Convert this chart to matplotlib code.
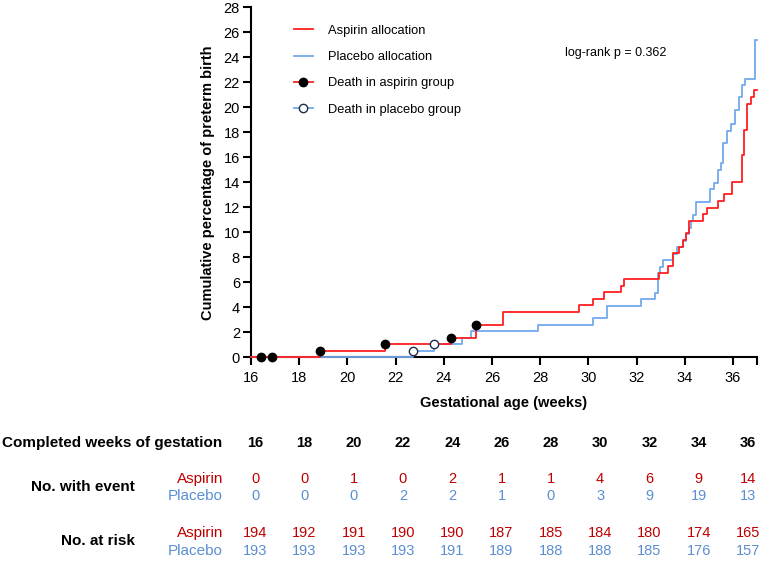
import matplotlib
matplotlib.use("Agg")
import matplotlib.pyplot as plt
import numpy as np
from matplotlib.lines import Line2D

plt.rcParams['font.family'] = ['Liberation Sans', 'DejaVu Sans']

# step curves: time of each step and cumulative % after it
aspirin_t = [16.0, 18.88, 21.58, 24.32, 25.33, 26.46, 29.61, 30.18, 30.63, 31.35,
             31.49, 32.93, 33.32, 33.50, 33.78, 33.92, 34.05, 34.18, 34.77, 34.93,
             35.37, 35.65, 35.95, 36.36, 36.48, 36.60, 36.75, 36.86]
aspirin_y = [0.0, 0.52, 1.04, 1.55, 2.58, 3.63, 4.17, 4.69, 5.20, 5.72,
             6.24, 6.77, 7.30, 8.32, 8.85, 9.38, 9.92, 10.93, 11.45, 11.97,
             12.50, 13.03, 14.05, 16.15, 18.15, 20.30, 20.82, 21.35]

placebo_t = [16.0, 22.72, 23.60, 24.74, 25.15, 27.90, 30.18, 30.76, 32.20, 32.75,
             32.90, 32.97, 33.08, 33.50, 33.70, 33.94, 34.05, 34.18, 34.25, 34.35,
             34.46, 35.05, 35.20, 35.38, 35.50, 35.60, 35.75, 35.93, 36.07, 36.24,
             36.38, 36.51, 36.93]
placebo_y = [0.0, 0.52, 1.04, 1.55, 2.07, 2.58, 3.11, 4.13, 4.66, 5.18,
             6.72, 7.25, 7.76, 8.28, 8.80, 9.32, 9.85, 10.37, 10.90, 11.40,
             12.45, 13.46, 13.97, 15.00, 15.52, 17.12, 18.12, 18.70, 19.76, 20.82,
             21.75, 22.25, 25.35]

# deaths (censoring marks)
aspirin_death_t = [16.42, 16.86, 18.88, 21.58, 24.32, 25.33]
placebo_death_t = [22.72, 23.60]

# table below the plot
table_weeks = [16, 18, 20, 22, 24, 26, 28, 30, 32, 34, 36]
events_aspirin = [0, 0, 1, 0, 2, 1, 1, 4, 6, 9, 14]
events_placebo = [0, 0, 0, 2, 2, 1, 0, 3, 9, 19, 13]
risk_aspirin = [194, 192, 191, 190, 190, 187, 185, 184, 180, 174, 165]
risk_placebo = [193, 193, 193, 193, 191, 189, 188, 188, 185, 176, 157]

red = '#ff1f1f'
blue = '#72a9ee'
txt_red = '#c00000'
txt_blue = '#5b8fd0'
xmax = 37


def value_at(ts, ys, t):
    i = np.searchsorted(ts, t, side='right') - 1
    return ys[max(i, 0)]


fig = plt.figure(figsize=(7.6, 5.73), dpi=100)
W, H = 760, 573
ax = fig.add_axes([251 / W, 1 - 357.3 / H, 506 / W, 350 / H])

ax.step(placebo_t + [xmax], placebo_y + [placebo_y[-1]], where='post',
        color=blue, lw=1.3, zorder=3, clip_on=False)
ax.step(aspirin_t + [xmax], aspirin_y + [aspirin_y[-1]], where='post',
        color=red, lw=1.3, zorder=4, clip_on=False)

ax.plot(aspirin_death_t, [value_at(aspirin_t, aspirin_y, t) for t in aspirin_death_t],
        'o', ms=6, mfc='black', mec='black', zorder=5, clip_on=False)
ax.plot(placebo_death_t, [value_at(placebo_t, placebo_y, t) for t in placebo_death_t],
        'o', ms=6, mfc='white', mec='#1f2d4d', mew=1.0, zorder=5, clip_on=False)

ax.set_xlim(16, xmax)
ax.set_ylim(0, 28)
ax.set_xticks(range(16, 37, 2))
ax.set_xticks([37], minor=True)
ax.set_yticks(range(0, 29, 2))
ax.tick_params(axis='both', which='both', direction='out', length=6, width=1.5,
               labelsize=10.5, colors='black')
ax.tick_params(axis='x', pad=4)
ax.tick_params(axis='y', pad=2)
for s in ['top', 'right']:
    ax.spines[s].set_visible(False)
for s in ['left', 'bottom']:
    ax.spines[s].set_linewidth(1.5)

ax.set_xlabel('Gestational age (weeks)', fontsize=10.5, fontweight='bold', labelpad=8)
ax.set_ylabel('Cumulative percentage of preterm birth', fontsize=10.5,
              fontweight='bold', labelpad=6)

handles = [
    Line2D([], [], color=red, lw=1.3),
    Line2D([], [], color=blue, lw=1.3),
    Line2D([], [], color=red, lw=1.3, marker='o', ms=6, mfc='black', mec='black'),
    Line2D([], [], color=blue, lw=1.3, marker='o', ms=6, mfc='white', mec='#1f2d4d'),
]
labels = ['Aspirin allocation', 'Placebo allocation',
          'Death in aspirin group', 'Death in placebo group']
ax.legend(handles, labels, loc='upper left', bbox_to_anchor=(0.085, 0.95),
          frameon=False, fontsize=9.3, handlelength=1.45, handletextpad=1.2,
          labelspacing=1.1, borderpad=0, borderaxespad=0)

ax.text(0.721, 0.869, 'log-rank p = 0.362', transform=ax.transAxes,
        ha='center', va='center', fontsize=9)

# number-at-risk table
cols = np.linspace(255, 748, len(table_weeks)) / W


def fy(py):
    return 1 - py / H


fig.text(222 / W, fy(443), 'Completed weeks of gestation', ha='right', va='center',
         fontsize=11, fontweight='bold')
fig.text(135 / W, fy(487), 'No. with event', ha='right', va='center',
         fontsize=11, fontweight='bold')
fig.text(135 / W, fy(541), 'No. at risk', ha='right', va='center',
         fontsize=11, fontweight='bold')
for py, name, col in [(479, 'Aspirin', txt_red), (496, 'Placebo', txt_blue),
                      (533, 'Aspirin', txt_red), (551, 'Placebo', txt_blue)]:
    fig.text(223 / W, fy(py), name, ha='right', va='center', fontsize=11,
             color=col)

rows = [(443, table_weeks, 'black', 'bold'),
        (479, events_aspirin, txt_red, 'normal'),
        (496, events_placebo, txt_blue, 'normal'),
        (533, risk_aspirin, txt_red, 'normal'),
        (551, risk_placebo, txt_blue, 'normal')]
for py, vals, col, wt in rows:
    for x, v in zip(cols, vals):
        fig.text(x, fy(py), str(v), ha='center', va='center', fontsize=10.5,
                 color=col, fontweight=wt)

fig.savefig('out.png', dpi=100)
